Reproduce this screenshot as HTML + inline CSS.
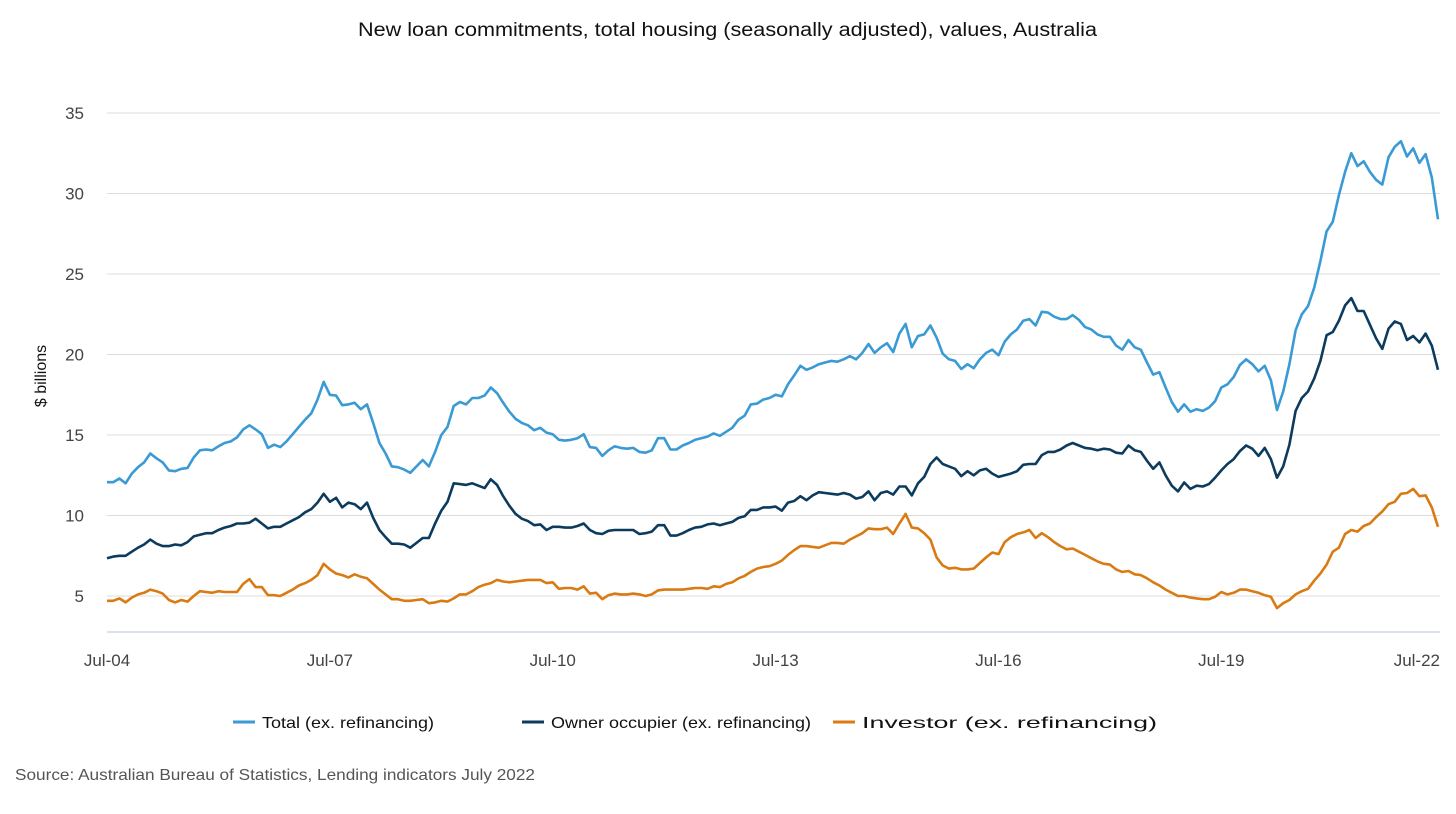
<!DOCTYPE html>
<html><head><meta charset="utf-8"><style>
body{margin:0;background:#fff;width:1456px;height:809px;overflow:hidden;font-family:"Liberation Sans",sans-serif}
</style></head><body>
<svg id="chart" width="1456" height="809" xmlns="http://www.w3.org/2000/svg">
<text x="358" y="36" textLength="739" lengthAdjust="spacingAndGlyphs" font-size="19" fill="#111">New loan commitments, total housing (seasonally adjusted), values, Australia</text>
<text transform="translate(46,376) rotate(-90)" text-anchor="middle" font-size="16" fill="#111">$ billions</text>
<g id="grid"></g><g id="yticks"></g><g id="xticks"></g><g id="series"></g>
<g font-size="16" fill="#111">
<g><line x1="233" y1="722" x2="255" y2="722" stroke="#3a9ad4" stroke-width="3"/><text x="262" y="728" textLength="172" lengthAdjust="spacingAndGlyphs">Total (ex. refinancing)</text></g>
<g><line x1="522" y1="722" x2="544" y2="722" stroke="#0d3b5e" stroke-width="3"/><text x="551" y="728" textLength="260" lengthAdjust="spacingAndGlyphs">Owner occupier (ex. refinancing)</text></g>
<g><line x1="833" y1="722" x2="855" y2="722" stroke="#d97b12" stroke-width="3"/><text x="862" y="728" textLength="295" lengthAdjust="spacingAndGlyphs">Investor (ex. refinancing)</text></g>
</g>
<text x="15" y="780" font-size="16" fill="#555" textLength="520" lengthAdjust="spacingAndGlyphs">Source: Australian Bureau of Statistics, Lending indicators July 2022</text>
</svg>
<script>
const yTicks=[5,10,15,20,25,30,35];
const xTickLabels=["Jul-04","Jul-07","Jul-10","Jul-13","Jul-16","Jul-19","Jul-22"];
const xTickMonths=[0,36,72,108,144,180,216];
const total=[12.07,12.07,12.3,12.0,12.6,13.0,13.3,13.85,13.55,13.3,12.8,12.75,12.9,12.95,13.6,14.05,14.1,14.05,14.3,14.5,14.6,14.85,15.35,15.6,15.35,15.05,14.2,14.4,14.25,14.6,15.05,15.5,15.95,16.35,17.2,18.3,17.5,17.45,16.85,16.9,17.0,16.6,16.9,15.75,14.5,13.85,13.05,13.0,12.85,12.65,13.05,13.45,13.05,13.95,15.0,15.5,16.8,17.05,16.9,17.3,17.3,17.45,17.95,17.6,17.0,16.45,16.0,15.75,15.6,15.3,15.45,15.15,15.05,14.7,14.65,14.7,14.8,15.05,14.25,14.2,13.7,14.05,14.3,14.2,14.15,14.2,13.95,13.9,14.05,14.8,14.8,14.1,14.1,14.35,14.5,14.7,14.8,14.9,15.1,14.95,15.2,15.45,15.95,16.2,16.9,16.95,17.2,17.3,17.5,17.4,18.15,18.7,19.3,19.05,19.2,19.4,19.5,19.6,19.55,19.7,19.9,19.7,20.1,20.65,20.1,20.45,20.7,20.15,21.3,21.9,20.45,21.15,21.25,21.8,21.05,20.05,19.7,19.6,19.1,19.4,19.15,19.7,20.1,20.3,19.95,20.8,21.25,21.55,22.1,22.2,21.8,22.65,22.6,22.35,22.2,22.2,22.45,22.15,21.7,21.55,21.25,21.1,21.1,20.55,20.3,20.9,20.45,20.3,19.5,18.75,18.9,17.95,17.05,16.45,16.9,16.45,16.6,16.5,16.7,17.1,17.95,18.15,18.6,19.35,19.7,19.4,18.95,19.3,18.4,16.55,17.7,19.4,21.5,22.5,23.0,24.15,25.8,27.65,28.25,29.9,31.35,32.5,31.7,32.0,31.35,30.85,30.55,32.25,32.9,33.25,32.3,32.8,31.9,32.45,31.0,28.4];
const owner=[7.35,7.45,7.5,7.5,7.75,8.0,8.2,8.5,8.25,8.1,8.1,8.2,8.15,8.35,8.7,8.8,8.9,8.9,9.1,9.25,9.35,9.5,9.5,9.55,9.8,9.5,9.2,9.3,9.3,9.5,9.7,9.9,10.2,10.4,10.8,11.35,10.85,11.1,10.5,10.8,10.7,10.4,10.8,9.85,9.1,8.65,8.25,8.25,8.2,8.0,8.3,8.6,8.6,9.5,10.3,10.85,12.0,11.95,11.9,12.0,11.85,11.7,12.25,11.9,11.2,10.6,10.1,9.8,9.65,9.4,9.45,9.1,9.3,9.3,9.25,9.25,9.35,9.5,9.1,8.9,8.85,9.05,9.1,9.1,9.1,9.1,8.85,8.9,9.0,9.4,9.4,8.75,8.75,8.9,9.1,9.25,9.3,9.45,9.5,9.4,9.5,9.6,9.85,9.95,10.35,10.35,10.5,10.5,10.55,10.3,10.8,10.9,11.2,10.95,11.25,11.45,11.4,11.35,11.3,11.4,11.3,11.05,11.15,11.5,10.95,11.4,11.5,11.3,11.8,11.8,11.25,12.0,12.4,13.2,13.6,13.2,13.05,12.9,12.45,12.75,12.5,12.8,12.9,12.6,12.4,12.5,12.6,12.75,13.15,13.2,13.2,13.75,13.95,13.95,14.1,14.35,14.5,14.35,14.2,14.15,14.05,14.15,14.1,13.9,13.85,14.35,14.05,13.95,13.4,12.9,13.3,12.5,11.85,11.5,12.05,11.65,11.85,11.8,11.95,12.35,12.8,13.2,13.5,14.0,14.35,14.15,13.7,14.2,13.5,12.35,13.05,14.4,16.5,17.3,17.7,18.5,19.6,21.2,21.4,22.1,23.05,23.5,22.7,22.7,21.85,21.0,20.35,21.6,22.05,21.9,20.9,21.15,20.75,21.3,20.55,19.05];
const investor=[4.7,4.7,4.85,4.6,4.9,5.1,5.2,5.4,5.3,5.15,4.75,4.6,4.75,4.65,5.0,5.3,5.25,5.2,5.3,5.25,5.25,5.25,5.75,6.05,5.55,5.55,5.05,5.05,5.0,5.2,5.4,5.65,5.8,6.0,6.3,7.0,6.65,6.4,6.3,6.15,6.35,6.2,6.1,5.75,5.4,5.1,4.8,4.8,4.7,4.7,4.75,4.8,4.55,4.6,4.7,4.65,4.85,5.1,5.1,5.3,5.55,5.7,5.8,6.0,5.9,5.85,5.9,5.95,6.0,6.0,6.0,5.8,5.85,5.45,5.5,5.5,5.4,5.6,5.15,5.2,4.8,5.05,5.15,5.1,5.1,5.15,5.1,5.0,5.1,5.35,5.4,5.4,5.4,5.4,5.45,5.5,5.5,5.45,5.6,5.55,5.75,5.85,6.1,6.25,6.5,6.7,6.8,6.85,7.0,7.2,7.55,7.85,8.1,8.1,8.05,8.0,8.15,8.3,8.3,8.25,8.5,8.7,8.9,9.2,9.15,9.15,9.25,8.85,9.5,10.1,9.25,9.2,8.9,8.5,7.4,6.9,6.7,6.75,6.65,6.65,6.7,7.05,7.4,7.7,7.6,8.35,8.65,8.85,8.95,9.1,8.6,8.9,8.65,8.35,8.1,7.9,7.95,7.75,7.55,7.35,7.15,7.0,6.95,6.65,6.5,6.55,6.35,6.3,6.1,5.85,5.65,5.4,5.2,5.0,5.0,4.9,4.85,4.8,4.8,4.95,5.25,5.1,5.2,5.4,5.4,5.3,5.2,5.05,4.95,4.25,4.55,4.75,5.1,5.3,5.45,5.95,6.4,6.95,7.75,8.0,8.85,9.1,9.0,9.35,9.5,9.9,10.25,10.7,10.85,11.35,11.4,11.65,11.2,11.25,10.5,9.3];

const NS="http://www.w3.org/2000/svg";
const X0=107, X1=1438, N=total.length;
function xScale(m){return X0+m*(X1-X0)/(N-1);}
function yScale(v){return 596-(v-5)*16.1;}
function mk(tag,attrs,parent){const e=document.createElementNS(NS,tag);for(const k in attrs)e.setAttribute(k,attrs[k]);parent.appendChild(e);return e;}
const grid=document.getElementById('grid'),yt=document.getElementById('yticks'),xt=document.getElementById('xticks'),sg=document.getElementById('series');
yTicks.forEach(v=>{
  const l=mk('line',{x1:107,x2:1440,y1:yScale(v),y2:yScale(v),stroke:'#dcdcdc','stroke-width':1},grid);
  
  
  const t=mk('text',{x:84,y:yScale(v)+6,'text-anchor':'end','font-size':17,fill:'#444'},yt);
  t.textContent=v;
  
  
});
const ax=mk('line',{x1:107,x2:1440,y1:632,y2:632,stroke:'#b8c4d6','stroke-width':1},grid);


xTickLabels.forEach((s,i)=>{
  let x=xScale(xTickMonths[i]);let anchor='middle';
  if(x>1400){x=1440;anchor='end';}
  const t=mk('text',{x:x,y:666,'text-anchor':anchor,'font-size':17,fill:'#444'},xt);
  t.textContent=s;
  
  
});
[[total,'#3a9ad4','total-line'],[owner,'#0d3b5e','owner-occupier-line'],[investor,'#d97b12','investor-line']].forEach(([arr,c,name])=>{
  const d=arr.map((v,i)=>(i?'L':'M')+xScale(i).toFixed(1)+' '+yScale(v).toFixed(1)).join(' ');
  const p=mk('path',{d:d,fill:'none',stroke:c,'stroke-width':2.6,'stroke-linejoin':'round'},sg);
  
  
});
</script>
</body></html>
